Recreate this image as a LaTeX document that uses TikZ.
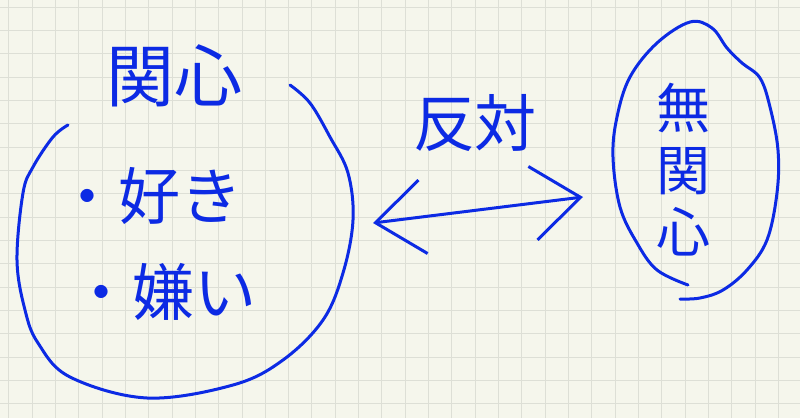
\documentclass[tikz,border=0pt]{standalone}
\usepackage{fontspec}
\newfontfamily\jpfont{Noto Sans CJK JP}
\usetikzlibrary{arrows.meta}

\definecolor{paper}{RGB}{245,246,236}
\definecolor{gridline}{RGB}{221,223,214}
\definecolor{ink}{RGB}{12,42,228}

\begin{document}
\begin{tikzpicture}[
  x=0.5pt, y=-0.5pt,
  pen/.style={draw=ink, line width=1.5pt, line cap=round, line join=round},
  word/.style={text=ink, inner sep=0pt, font=\jpfont},
  oppline/.style={pen, {Straight Barb[length=24pt,width=37pt]}-{Straight Barb[length=24pt,width=37pt]}}
]
  % paper and grid
  \fill[paper] (0,0) rectangle (800,418);
  \useasboundingbox (0,0) rectangle (800,418);
  \foreach \i in {0,...,34}
    \draw[gridline, line width=0.5pt] (8.7+23.33*\i,0) -- (8.7+23.33*\i,418);
  \foreach \j in {0,...,17}
    \draw[gridline, line width=0.5pt] (0,7.3+23.33*\j) -- (800,7.3+23.33*\j);

  % interest circle
  \draw[pen] plot[smooth, tension=0.6] coordinates {
    (68,125) (53,137) (33,167) (23,193) (17,260) (25,310) (38,343) (70,377)
    (147,398) (233,385) (283,360) (323,320) (343,273) (353,220) (348,173)
    (330,137) (310,103) (290,85)};
  \node (kanshin) [word, font=\jpfont\fontsize{34}{34}\selectfont] at (174,76) {関心};
  \node (suki) [word, anchor=west, font=\jpfont\fontsize{31}{31}\selectfont] at (56,196) {・好き};
  \node (kirai) [word, anchor=west, font=\jpfont\fontsize{31}{31}\selectfont] at (70,292) {・嫌い};

  % indifference blob
  \draw[pen] plot[smooth, tension=0.6] coordinates {
    (688,285) (657,270) (637,243) (620,207) (613,157) (617,117) (630,77)
    (657,43) (690,22) (712,28) (727,48) (742,63) (760,78) (770,107)
    (778,150) (777,193) (767,240) (747,270) (723,290) (700,298) (680,299)};
  \node (mukanshin) [word, align=center, font=\jpfont\fontsize{27}{31}\selectfont] at (683,170) {無\\関\\心};

  % opposite arrow
  \coordinate (oppL) at (373,223);
  \coordinate (oppR) at (583,197);
  \draw[oppline] (oppL) -- (oppR);
  \node (hantai) [word, font=\jpfont\fontsize{31}{31}\selectfont] at (475,123) {反対};
\end{tikzpicture}
\end{document}
